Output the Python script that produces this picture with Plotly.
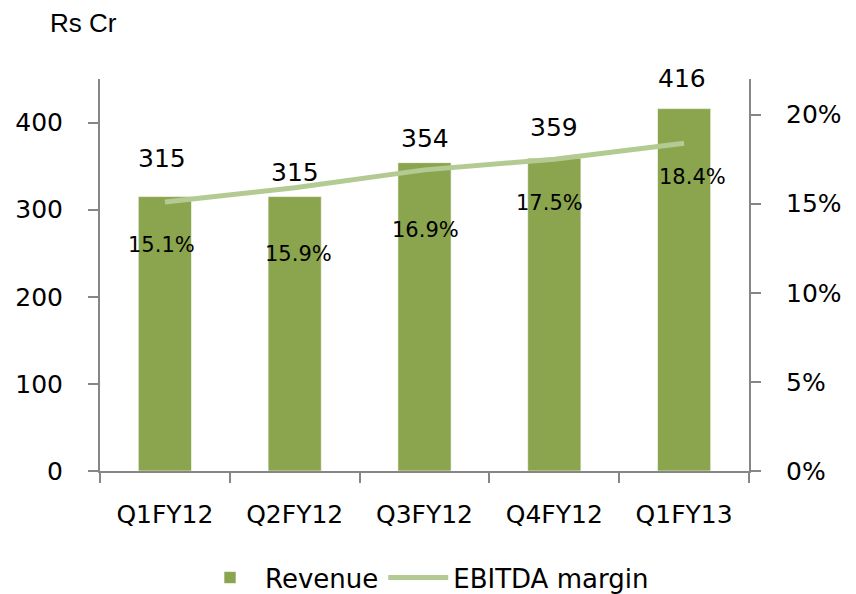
import plotly.graph_objects as go

categories = ["Q1FY12", "Q2FY12", "Q3FY12", "Q4FY12", "Q1FY13"]
revenue = [315, 315, 354, 359, 416]
ebitda_margin = [0.151, 0.159, 0.169, 0.175, 0.184]
y_ticks = [0, 100, 200, 300, 400]
y2_ticks = [0, 0.05, 0.10, 0.15, 0.20]
y2_ticklabels = ["0%", "5%", "10%", "15%", "20%"]

BAR_COLOR = "#8BA54E"
LINE_COLOR = "#B3CB93"
AXIS_COLOR = "#868686"
FONT = "DejaVu Sans"

ML, MR, MT, MB = 92, 115, 71, 131
PLOT_H = 392

fig = go.Figure()
fig.add_trace(go.Bar(
    x=categories, y=revenue, name="Revenue",
    marker=dict(color=BAR_COLOR, line=dict(color="rgba(255,255,255,0.6)", width=1)),
    width=0.41, yaxis="y",
))
fig.add_trace(go.Scatter(
    x=categories, y=ebitda_margin, name="EBITDA margin", mode="lines",
    line=dict(color=LINE_COLOR, width=5), yaxis="y2",
))

# data labels
rev_shift = [38, 24, 24, 31, 30]
rev_xshift = [-3, 0, 0, 0, -2]
pct_shift = [-43, -66, -60, -44, -34]
pct_xshift = [-3, 4, 1, -5, 8]
annotations = []
for i, c in enumerate(categories):
    annotations.append(dict(
        x=c, y=revenue[i], xref="x", yref="y", text=str(revenue[i]),
        showarrow=False, yanchor="middle", yshift=rev_shift[i], xshift=rev_xshift[i],
        font=dict(family=FONT, size=25, color="black"),
    ))
    annotations.append(dict(
        x=c, y=ebitda_margin[i], xref="x", yref="y2",
        text=f"{ebitda_margin[i]*100:.1f}%",
        showarrow=False, yanchor="middle", yshift=pct_shift[i], xshift=pct_xshift[i],
        font=dict(family=FONT, size=21, color="black"),
    ))
annotations.append(dict(
    x=(48 - 100) / 649, y=1 + (79 - 23) / PLOT_H, xref="paper", yref="paper",
    xanchor="left", yanchor="middle", text="Rs Cr", showarrow=False,
    font=dict(family="Liberation Sans", size=26, color="black"),
))

fig.update_layout(
    width=856, height=594,
    margin=dict(l=ML, r=MR, t=MT, b=MB),
    paper_bgcolor="white", plot_bgcolor="white",
    font=dict(family=FONT, size=25, color="black"),
    bargap=0.59,
    showlegend=True,
    legend=dict(orientation="h", x=0.5, xanchor="center",
                yref="container", y=0.041, yanchor="middle",
                font=dict(family=FONT, size=26, color="black"), itemwidth=60,
                tracegroupgap=0),
    xaxis=dict(
        type="category", showline=True, linecolor=AXIS_COLOR, linewidth=2,
        ticks="outside", tickson="boundaries", ticklen=10, tickcolor=AXIS_COLOR, tickwidth=2,
        showgrid=False, zeroline=False, ticklabelstandoff=20, automargin=False,
        tickfont=dict(family=FONT, size=25, color="black"),
    ),
    yaxis=dict(
        range=[0, 450], tickvals=y_ticks, showline=True, linecolor=AXIS_COLOR, linewidth=2,
        ticks="outside", ticklen=10, tickcolor=AXIS_COLOR, tickwidth=2,
        showgrid=False, zeroline=False, ticklabelstandoff=20, automargin=False,
        tickfont=dict(family=FONT, size=25, color="black"),
    ),
    yaxis2=dict(
        range=[0, 0.22], tickvals=y2_ticks, ticktext=y2_ticklabels,
        overlaying="y", side="right", showline=True, linecolor=AXIS_COLOR, linewidth=2,
        ticks="outside", ticklen=10, tickcolor=AXIS_COLOR, tickwidth=2,
        showgrid=False, zeroline=False, ticklabelstandoff=20, automargin=False,
        tickfont=dict(family=FONT, size=25, color="black"),
    ),
    annotations=annotations,
)

fig.write_html("out.html")
